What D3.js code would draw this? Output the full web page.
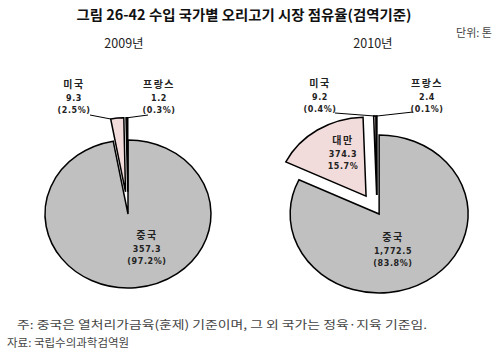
<!DOCTYPE html>
<html>
<head>
<meta charset="utf-8">
<script src="https://cdn.jsdelivr.net/npm/d3@7"></script>
<style>
  html, body { margin: 0; padding: 0; background: #fff; }
  svg { display: block; }
</style>
</head>
<body>
<svg id="chart" width="500" height="356"></svg>
<script>
// ---- data ----
const titleText = "그림 26-42 수입 국가별 오리고기 시장 점유율(검역기준)";
const unitText = "단위: 톤";
const years = ["2009년", "2010년"];
const countries2009 = ["중국", "미국", "프랑스"];
const values2009 = [357.3, 9.3, 1.2];
const valueLabels2009 = ["357.3", "9.3", "1.2"];
const pctLabels2009 = ["(97.2%)", "(2.5%)", "(0.3%)"];
const countries2010 = ["중국", "대만", "미국", "프랑스"];
const values2010 = [1772.5, 374.3, 9.2, 2.4];
const valueLabels2010 = ["1,772.5", "374.3", "9.2", "2.4"];
const pctLabels2010 = ["(83.8%)", "15.7%", "(0.4%)", "(0.1%)"];
const noteText = "주: 중국은 열처리가금육(훈제) 기준이며, 그 외 국가는 정육·지육 기준임.";
const sourceText = "자료: 국립수의과학검역원";

// ---- styles / layout ----
const colors = { "중국": "#c0c0c0", "미국": "#f2dcdb", "대만": "#f2dcdb", "프랑스": "#111" };
const colors2010 = { "중국": "#c0c0c0", "미국": "#f2dcdb", "대만": "#f2dcdb", "프랑스": "#6b0a0a" };

const svg = d3.select("#chart");
const KR = "'Noto Sans CJK KR', 'Noto Sans', sans-serif";

svg.append("text").attr("x", 244).attr("y", 20).attr("text-anchor", "middle")
  .attr("font-family", KR).attr("font-weight", "bold").attr("font-size", 14)
  .attr("textLength", 335).attr("lengthAdjust", "spacingAndGlyphs")
  .attr("fill", "#111").text(titleText);
svg.append("text").attr("x", 492).attr("y", 37).attr("text-anchor", "end")
  .attr("font-family", KR).attr("font-size", 11).attr("fill", "#444").text(unitText);

const pies = [
  { year: years[0], names: countries2009, vals: values2009, vl: valueLabels2009, pl: pctLabels2009, col: colors,
    cx: 128, cy: 214, rx: 83, ry: 74, yearX: 124,
    explode: { "중국": 0, "미국": 25, "프랑스": 25 },
    labels: { "중국": [147, 235], "미국": [74, 84], "프랑스": [159, 84] },
    leaders: { "미국": [90, 115, "start"], "프랑스": [148, 115, "end"] } },
  { year: years[1], names: countries2010, vals: values2010, vl: valueLabels2010, pl: pctLabels2010, col: colors2010,
    cx: 377, cy: 211, rx: 89, ry: 79, yearX: 373,
    explode: { "중국": 4, "대만": 20, "미국": 18, "프랑스": 18 },
    labels: { "중국": [393, 237], "대만": [343, 140], "미국": [320, 83], "프랑스": [427, 83] },
    leaders: { "미국": [335, 113, "mid"], "프랑스": [413, 112, "end"] } }
];

pies.forEach(p => {
  svg.append("text").attr("x", p.yearX).attr("y", 48).attr("text-anchor", "middle")
    .attr("font-family", KR).attr("font-size", 12.5).attr("fill", "#222").text(p.year);

  const data = p.names.map((n, i) => ({ name: n, value: p.vals[i], vl: p.vl[i], pl: p.pl[i] }));
  const arcs = d3.pie().sort(null).value(d => d.value)(data);
  const arcGen = d3.arc().innerRadius(0).outerRadius(p.rx);
  const sy = p.ry / p.rx;

  const g = svg.append("g").attr("transform", `translate(${p.cx},${p.cy}) scale(1,${sy})`);
  function offset(a) {
    const mid = (a.startAngle + a.endAngle) / 2;
    const e = p.explode[a.data.name] || 0;
    return [Math.sin(mid) * e, -Math.cos(mid) * e];
  }
  g.selectAll("path").data(arcs).join("path")
    .attr("transform", a => { const o = offset(a); return `translate(${o[0]},${o[1]})`; })
    .attr("d", arcGen)
    .attr("fill", a => p.col[a.data.name])
    .attr("stroke", "#000").attr("stroke-width", 1.5)
    .attr("stroke-linejoin", "miter")
    .attr("vector-effect", "non-scaling-stroke");

  // leader lines
  arcs.forEach(a => {
    const ld = p.leaders[a.data.name];
    if (!ld) return;
    const ang = ld[2] === "start" ? a.startAngle : ld[2] === "end" ? a.endAngle : (a.startAngle + a.endAngle) / 2;
    const o = offset(a);
    const ex = p.cx + o[0] + Math.sin(ang) * p.rx;
    const ey = p.cy + (o[1] - Math.cos(ang) * p.rx) * sy;
    svg.append("line").attr("x1", ld[0]).attr("y1", ld[1]).attr("x2", ex).attr("y2", ey)
      .attr("stroke", "#000").attr("stroke-width", 1);
  });

  // labels
  arcs.forEach(a => {
    const pos = p.labels[a.data.name];
    const t = svg.append("g").attr("transform", `translate(${pos[0]},${pos[1]})`);
    t.append("text").attr("y", 4).attr("text-anchor", "middle")
      .attr("font-family", KR).attr("font-weight", "bold").attr("font-size", 10)
      .attr("letter-spacing", 1.5).attr("fill", "#222").text(a.data.name);
    t.append("text").attr("y", 16.5).attr("text-anchor", "middle")
      .attr("font-family", "'DejaVu Sans', sans-serif").attr("font-weight", "bold").attr("font-size", 8)
      .attr("letter-spacing", 0.6).attr("fill", "#222").text(a.data.vl);
    t.append("text").attr("y", 28.5).attr("text-anchor", "middle")
      .attr("font-family", "'DejaVu Sans', sans-serif").attr("font-weight", "bold").attr("font-size", 8)
      .attr("letter-spacing", 0.6).attr("fill", "#222").text(a.data.pl);
  });
});

svg.append("text").attr("x", 17).attr("y", 329).attr("font-family", KR).attr("font-size", 11.5)
  .attr("textLength", 410).attr("lengthAdjust", "spacingAndGlyphs")
  .attr("fill", "#444").text(noteText);
svg.append("text").attr("x", 7).attr("y", 347).attr("font-family", KR).attr("font-size", 11.5)
  .attr("fill", "#444").text(sourceText);
</script>
</body>
</html>
